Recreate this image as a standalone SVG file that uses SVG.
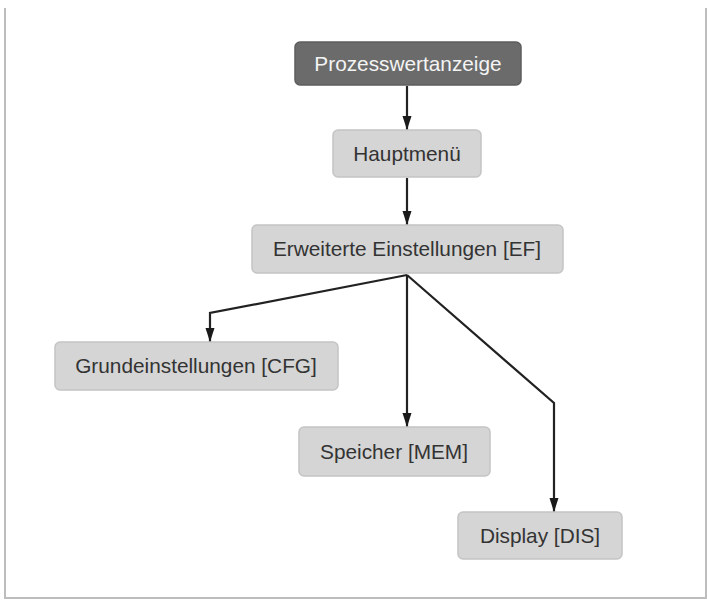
<svg xmlns="http://www.w3.org/2000/svg" width="707" height="601" viewBox="0 0 707 601">
<style>
.box{fill:#d5d5d5;stroke:#c4c4c4;stroke-width:1.5}
.dark{fill:#6b6b6b;stroke:#5e5e5e;stroke-width:1.5}
.t{font-family:"Liberation Sans",Arial,sans-serif;font-size:20.8px;fill:#333;text-anchor:middle}
.tw{fill:#f4f4f4}
.c{fill:none;stroke:#222;stroke-width:2.2;marker-end:url(#ah)}
.frame{stroke:#bdbdbd;stroke-width:2;fill:none}
</style>
<defs>
<marker id="ah" viewBox="0 0 14 10" refX="14" refY="5" markerWidth="14" markerHeight="10" markerUnits="userSpaceOnUse" orient="auto">
<path d="M0,0.5 L14,5 L0,9.5 z" fill="#1a1a1a"/>
</marker>
</defs>
<rect width="707" height="601" fill="#ffffff"/>
<path class="frame" d="M5,8 V598 H706 V8"/>
<g id="connectors">
<path class="c" d="M407,86 V130"/>
<path class="c" d="M407,178 V225"/>
<path class="c" d="M407,275 L210,313 V342"/>
<path class="c" d="M407,275 V427"/>
<path class="c" d="M407,275 L554,403 V512"/>
</g>
<g id="prozesswertanzeige">
<rect class="dark" x="295" y="42" width="226" height="43" rx="5"/>
<text class="t tw" x="408" y="70.5">Prozesswertanzeige</text>
</g>
<g id="hauptmenue">
<rect class="box" x="333" y="130" width="148" height="47" rx="5"/>
<text class="t" x="407" y="161">Hauptmenü</text>
</g>
<g id="ef">
<rect class="box" x="252" y="225" width="311" height="48" rx="5"/>
<text class="t" x="407" y="256">Erweiterte Einstellungen [EF]</text>
</g>
<g id="cfg">
<rect class="box" x="55" y="342" width="283" height="48" rx="5"/>
<text class="t" x="196" y="373">Grundeinstellungen [CFG]</text>
</g>
<g id="mem">
<rect class="box" x="299" y="427" width="191" height="49" rx="5"/>
<text class="t" x="394" y="458.5">Speicher [MEM]</text>
</g>
<g id="dis">
<rect class="box" x="458" y="512" width="164" height="47" rx="5"/>
<text class="t" x="540" y="543">Display [DIS]</text>
</g>
</svg>
